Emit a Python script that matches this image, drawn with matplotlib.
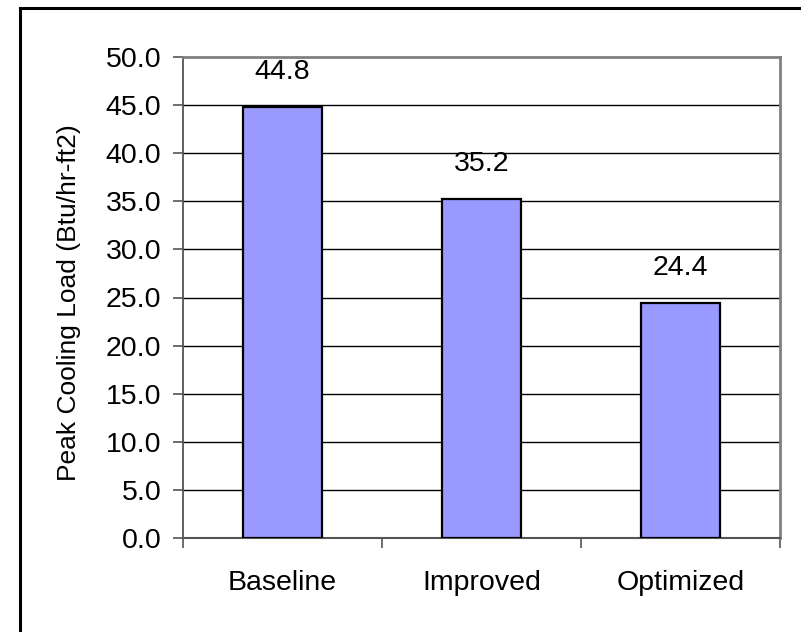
import matplotlib
matplotlib.use("Agg")
import matplotlib.pyplot as plt
from matplotlib.lines import Line2D
import numpy as np

categories = ['Baseline', 'Improved', 'Optimized']
loads = [44.8, 35.2, 24.4]
yticks = [0, 5, 10, 15, 20, 25, 30, 35, 40, 45, 50]

plt.rcParams['font.family'] = ['Liberation Sans', 'DejaVu Sans']

W, H = 801, 632
fig = plt.figure(figsize=(W / 100, H / 100), dpi=100)
ax = fig.add_axes([183 / W, 1 - 538 / H, (780 - 183) / W, (538 - 57) / H])

x = np.arange(len(categories))
ax.bar(x, loads, width=0.4, color='#9999ff', edgecolor='black', linewidth=1.6, zorder=3)

for xi, v in zip(x, loads):
    ax.text(xi, v + 2.3, '%.1f' % v, ha='center', va='bottom', fontsize=20.5)

ax.set_xlim(-0.5, len(categories) - 0.5)
ax.set_ylim(0, 50)
ax.set_yticks(yticks)
ax.set_yticklabels(['%.1f' % t for t in yticks], fontsize=20.5)
for t in yticks[1:-1]:
    ax.axhline(t, color='black', linewidth=1.0, zorder=1)

ax.set_xticks(x)
ax.set_xticklabels(categories, fontsize=20.5)
ax.tick_params(axis='x', length=0, pad=23)
ax.set_xticks(np.arange(len(categories) + 1) - 0.5, minor=True)
ax.tick_params(axis='x', which='minor', length=7.5, width=1.2, color='#555555', direction='out')
ax.tick_params(axis='y', length=7.5, width=1.2, color='#555555', pad=8)

for s in ['top', 'right']:
    ax.spines[s].set_color('#808080')
    ax.spines[s].set_linewidth(2.0)
ax.spines['left'].set_color('#555555')
ax.spines['left'].set_linewidth(1.3)
ax.spines['bottom'].set_color('#555555')
ax.spines['bottom'].set_linewidth(1.5)

ax.set_ylabel('Peak Cooling Load (Btu/hr-ft2)', fontsize=19)
ax.yaxis.set_label_coords((81 - 183) / (780 - 183), 0.49)

# chart frame (only top and left visible in the crop)
fig.add_artist(Line2D([20 / W, 20 / W], [0, 1 - 8 / H], color='black', linewidth=2.2))
fig.add_artist(Line2D([20 / W, 1], [1 - 8 / H, 1 - 8 / H], color='black', linewidth=2.2))

fig.savefig('out.png', dpi=100)
